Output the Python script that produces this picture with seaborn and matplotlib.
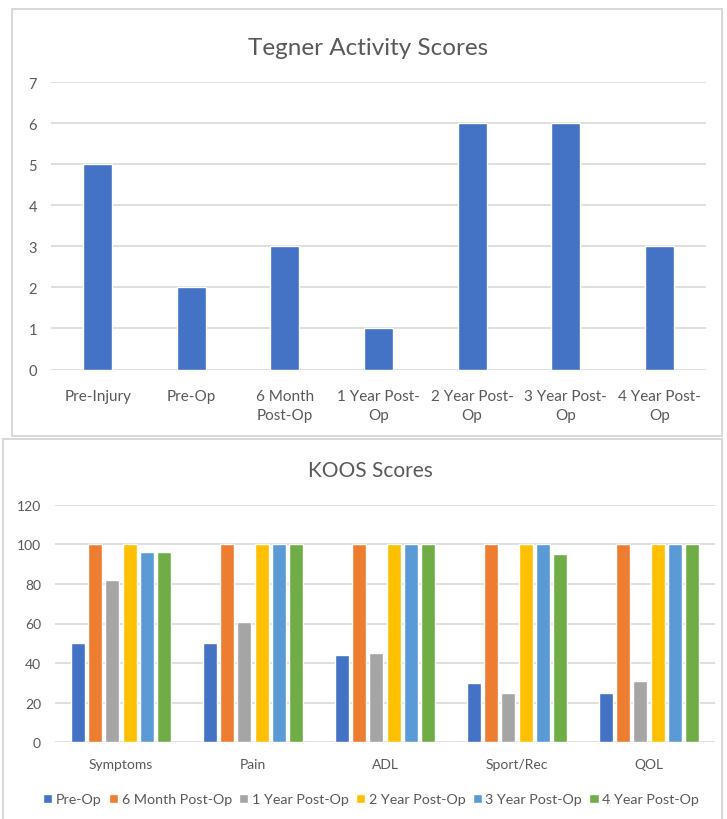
import numpy as np
import pandas as pd
import matplotlib
matplotlib.use("Agg")
import matplotlib.pyplot as plt
from matplotlib.patches import Rectangle
import seaborn as sns

sns.set_style("white")
plt.rcParams['font.family'] = ['Lato', 'DejaVu Sans']

# Tegner activity data
tegner_labels = ['Pre-Injury', 'Pre-Op', '6 Month\nPost-Op', '1 Year Post-\nOp',
                 '2 Year Post-\nOp', '3 Year Post-\nOp', '4 Year Post-\nOp']
tegner_scores = [5, 2, 3, 1, 6, 6, 3]

# KOOS data
koos_domains = ['Symptoms', 'Pain', 'ADL', 'Sport/Rec', 'QOL']
koos_times = ['Pre-Op', '6 Month Post-Op', '1 Year Post-Op',
              '2 Year Post-Op', '3 Year Post-Op', '4 Year Post-Op']
pre_op = [50, 50, 44, 30, 25]
month6 = [100, 100, 100, 100, 100]
year1 = [82, 61, 45, 25, 31]
year2 = [100, 100, 100, 100, 100]
year3 = [96, 100, 100, 100, 100]
year4 = [96, 100, 100, 95, 100]

koos_colors = ['#4472C4', '#ED7D31', '#A5A5A5', '#FFC000', '#5B9BD5', '#70AD47']
text_col = '#595959'
grid_col = '#d9d9d9'

rows = []
for t, vals in zip(koos_times, [pre_op, month6, year1, year2, year3, year4]):
    for d, v in zip(koos_domains, vals):
        rows.append(dict(domain=d, time=t, score=v))
koos_df = pd.DataFrame(rows)

W, H = 727, 820
fig = plt.figure(figsize=(W / 100, H / 100), dpi=100)

# panel frames
fig.patches.append(Rectangle((12 / W, 1 - 437 / H), 710 / W, 427 / H,
                             transform=fig.transFigure, fill=False,
                             edgecolor=grid_col, linewidth=1.5, zorder=0))
fig.patches.append(Rectangle((3 / W, -0.05), 719 / W, 1 - 440 / H + 0.05,
                             transform=fig.transFigure, fill=False,
                             edgecolor=grid_col, linewidth=1.5, zorder=0))

# --- Tegner ---
ax1 = fig.add_axes([51 / W, 1 - 370.5 / H, 655 / W, 287.5 / H])
sns.barplot(x=tegner_labels, y=tegner_scores, color='#4472C4', width=0.31,
            saturation=1, ax=ax1)
ax1.set_ylim(0, 7)
ax1.set_yticks(range(0, 8))
ax1.yaxis.grid(True, color=grid_col, linewidth=1.2)
ax1.set_axisbelow(True)
for s in ax1.spines.values():
    s.set_visible(False)
ax1.tick_params(length=0, labelsize=10.5, colors=text_col, pad=10)
ax1.tick_params(axis='x', labelsize=11, pad=14)
for lbl in ax1.get_xticklabels():
    lbl.set_linespacing(1.45)
ax1.set_title('Tegner Activity Scores', fontsize=17.5, color=text_col,
              x=(368 - 51) / 655, y=1.0, pad=20)

# --- KOOS ---
ax2 = fig.add_axes([55 / W, 1 - 743.3 / H, 660 / W, 237.6 / H])
sns.barplot(data=koos_df, x='domain', y='score', hue='time', palette=koos_colors,
            width=0.79, gap=0.2, saturation=1, ax=ax2)
ax2.set_ylim(0, 120)
ax2.set_yticks(range(0, 121, 20))
ax2.yaxis.grid(True, color=grid_col, linewidth=1.2)
ax2.set_axisbelow(True)
for s in ax2.spines.values():
    s.set_visible(False)
ax2.set_xlabel('')
ax2.set_ylabel('')
ax2.tick_params(length=0, labelsize=10, colors=text_col, pad=10)
ax2.tick_params(axis='x', pad=11)
ax2.set_title('KOOS Scores', fontsize=15, color=text_col,
              x=(370 - 55) / 660, pad=21)
ax2.legend(loc='center', bbox_to_anchor=((371 - 55) / 660, -0.24), ncol=6,
           frameon=False, fontsize=10.3, handlelength=0.65, handleheight=0.65,
           handletextpad=0.25, columnspacing=0.5, labelcolor=text_col)

fig.savefig('out.png', dpi=100)
